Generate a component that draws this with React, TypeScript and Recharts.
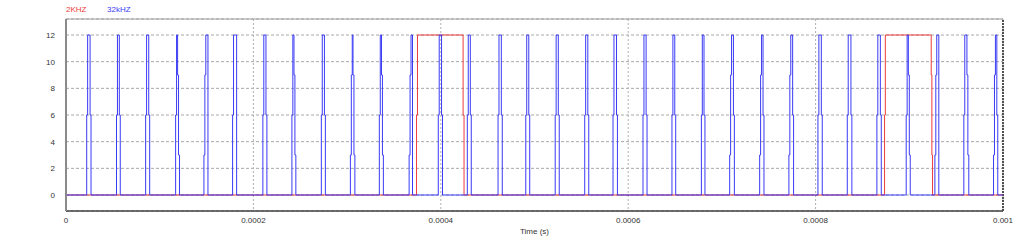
import React from 'react';
import { LineChart, Line, XAxis, YAxis, CartesianGrid, ReferenceLine, Label } from 'recharts';

// ---- data (times in microseconds, values in volts) ----
const seriesNames = ['2KHZ', '32kHZ'];

const redTimesUs = [0, 374.1, 375.1, 423.8, 424.8, 873.6, 874.4, 923.4, 924.1, 924.8, 1000];
const redValues = [0, 6, 12, 6, 0, 6, 12, 9, 3, 0, 0];

const blueRiseUs = [22.1, 53.9, 85.0, 117.0, 147.2, 177.8, 210.1, 241.1, 272.5, 303.5, 334.4, 366.2, 397.3, 428.3, 461.1, 490.7,
  522.1, 553.6, 583.8, 615.8, 646.7, 678.1, 708.3, 740.3, 771.5, 802.5, 833.8, 865.4, 896.7, 927.3, 958.2, 989.9];
const blueFallUs = [26.7, 57.9, 89.3, 121.1, 151.5, 182.1, 214.4, 245.3, 276.8, 308.3, 338.7, 369.8, 401.8, 432.5, 465.6, 494.9,
  526.4, 557.9, 588.5, 620.1, 650.7, 681.9, 713.3, 744.9, 776.5, 807.1, 838.7, 870.1, 901.0, 931.5, 963.5, 994.4];
const blueRiseLevels: number[][] = [
  [6], [6], [6], [6], [3, 9], [6], [6], [6], [6], [3, 9], [6], [3, 9], [6], [6], [6], [6],
  [6], [6], [6], [6], [6], [6], [3, 9], [3, 9], [3, 9], [6], [6], [6], [6], [3, 9], [6], [3, 9],
];
const blueFallLevels: number[][] = [
  [6], [6], [6], [9, 3], [], [], [6], [9, 3], [6], [9, 3], [9, 3], [], [6], [6], [6], [6],
  [6], [6], [6], [6], [6], [6], [6], [6], [6], [6], [6], [6], [9, 3], [], [9, 3], [6],
];
const pulseHigh = 12;
const stepUs = 1;

const xTicks = [0, 0.0002, 0.0004, 0.0006, 0.0008, 0.001];
const xTickLabels = ['0', '0.0002', '0.0004', '0.0006', '0.0008', '0.001'];
const yTicks = [0, 2, 4, 6, 8, 10, 12];

// ---- build series ----
const redData = redTimesUs.map((t, i) => ({ t: t * 1e-6, v: redValues[i] }));

const blueData = (() => {
  const pts: { t: number; v: number }[] = [{ t: 0, v: 0 }];
  blueRiseUs.forEach((r, i) => {
    const f = blueFallUs[i];
    const rl = blueRiseLevels[i];
    const fl = blueFallLevels[i];
    rl.forEach((lv, j) => pts.push({ t: (r + j * stepUs) * 1e-6, v: lv }));
    pts.push({ t: (r + rl.length * stepUs) * 1e-6, v: pulseHigh });
    const fs = f - fl.length * stepUs;
    fl.forEach((lv, j) => pts.push({ t: (fs + j * stepUs) * 1e-6, v: lv }));
    pts.push({ t: f * 1e-6, v: 0 });
  });
  pts.push({ t: 0.001, v: 0 });
  return pts;
})();

const RED = '#f03a3a';
const BLUE = '#3a3af5';
const FONT = '"Liberation Sans", Arial, sans-serif';

export default function App() {
  return (
    <div style={{ position: 'absolute', left: 0, top: 0, width: 1024, height: 248, background: '#fff' }}>
      <div style={{ position: 'absolute', left: 66, top: 5, fontFamily: FONT, fontSize: 8, lineHeight: '10px', color: RED }}>
        {seriesNames[0]}
      </div>
      <div style={{ position: 'absolute', left: 107, top: 5, fontFamily: FONT, fontSize: 8, lineHeight: '10px', color: BLUE }}>
        {seriesNames[1]}
      </div>
      <LineChart width={1024} height={248} margin={{ top: 19, right: 21, left: 0, bottom: 0 }}>
        <CartesianGrid vertical={false} stroke="#a8a8a8" strokeDasharray="3 2" />
        <CartesianGrid horizontal={false} stroke="#b0b0b0" strokeDasharray="2 2" />
        <XAxis
          type="number"
          dataKey="t"
          domain={[0, 0.001]}
          ticks={xTicks}
          tickFormatter={(v: number, i: number) => xTickLabels[i]}
          allowDataOverflow
          height={37}
          tickSize={0}
          tickMargin={6}
          axisLine={{ stroke: '#404040', strokeWidth: 1.5 }}
          tick={{ fill: '#333', fontSize: 8, fontFamily: FONT }}
          interval={0}
        >
          <Label value="Time (s)" position="insideBottom" offset={14} style={{ fill: '#333', fontSize: 8, fontFamily: FONT }} />
        </XAxis>
        <YAxis
          type="number"
          domain={[-1.2, 13.2]}
          ticks={yTicks}
          width={66}
          allowDataOverflow
          tickSize={0}
          tickMargin={11}
          axisLine={{ stroke: '#8a8a8a', strokeWidth: 2 }}
          tick={{ fill: '#333', fontSize: 8, fontFamily: FONT }}
          interval={0}
        />
        <ReferenceLine y={13.2} stroke="#a0a0a0" strokeWidth={1} />
        <ReferenceLine x={0.001} stroke="#505050" strokeWidth={2} strokeDasharray="2 1" />
        <Line
          data={redData}
          dataKey="v"
          name={seriesNames[0]}
          type="stepAfter"
          stroke={RED}
          strokeWidth={1}
          dot={false}
          activeDot={false}
          isAnimationActive={false}
        />
        <Line
          data={blueData}
          dataKey="v"
          name={seriesNames[1]}
          type="stepAfter"
          stroke={BLUE}
          strokeWidth={1}
          dot={false}
          activeDot={false}
          isAnimationActive={false}
        />
      </LineChart>
    </div>
  );
}
